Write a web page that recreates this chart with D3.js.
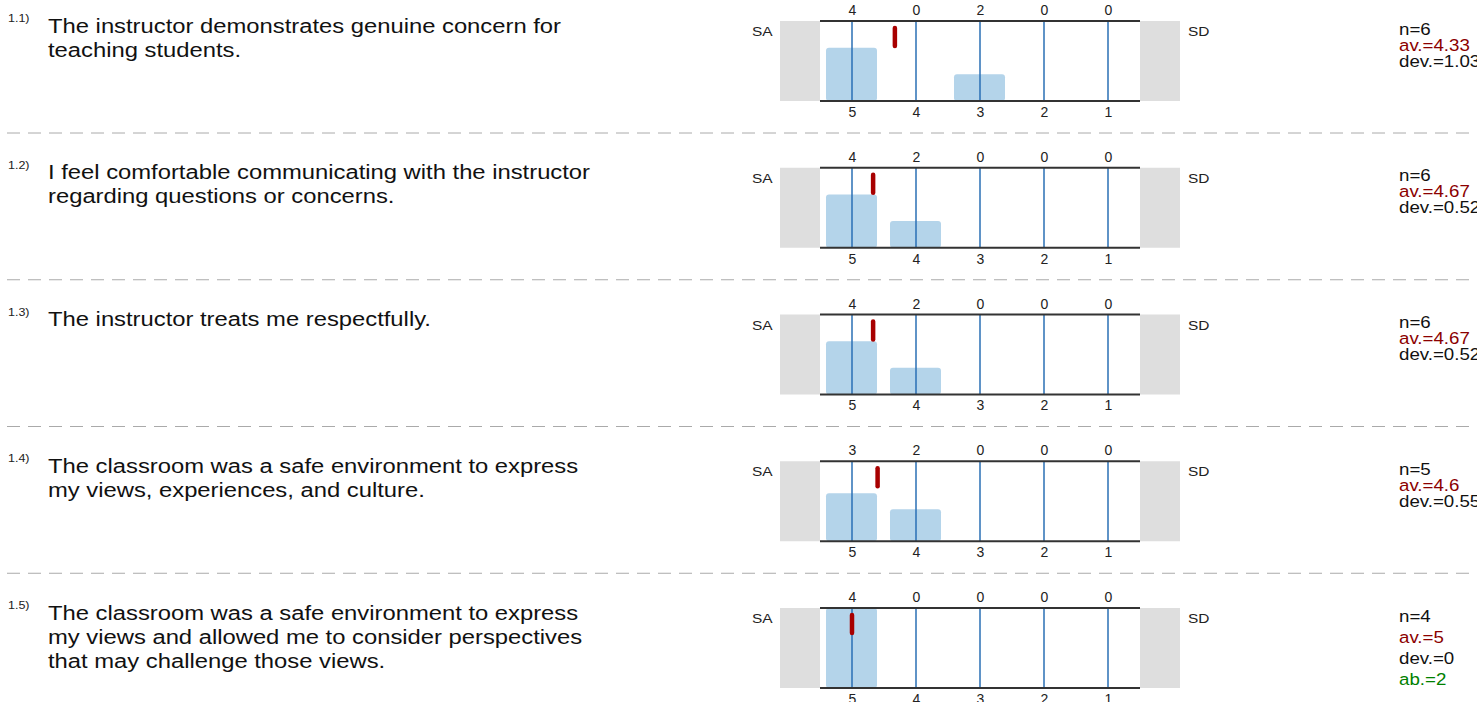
<!DOCTYPE html>
<html>

<head>
    <title>
        Survey Items
    </title>
    <script src="https://cdn.jsdelivr.net/npm/d3@7"></script>
    <style>
        body { margin: 0; background: #fff; }
        text { font-family: "Liberation Sans", Arial, sans-serif; }
    </style>
</head>

<body>
    <svg></svg>
    <script>
        const width = 1477;
        const height = 702;

        // data
        const itemNumbers = ["1.1)", "1.2)", "1.3)", "1.4)", "1.5)"];
        const questions = [
            ["The instructor demonstrates genuine concern for", "teaching students."],
            ["I feel comfortable communicating with the instructor", "regarding questions or concerns."],
            ["The instructor treats me respectfully."],
            ["The classroom was a safe environment to express", "my views, experiences, and culture."],
            ["The classroom was a safe environment to express", "my views and allowed me to consider perspectives", "that may challenge those views."]
        ];
        const scaleValues = [5, 4, 3, 2, 1];
        const counts = [
            [4, 0, 2, 0, 0],
            [4, 2, 0, 0, 0],
            [4, 2, 0, 0, 0],
            [3, 2, 0, 0, 0],
            [4, 0, 0, 0, 0]
        ];
        const nValues = [6, 6, 6, 5, 4];
        const averages = [4.33, 4.67, 4.67, 4.6, 5];
        const deviations = [1.03, 0.52, 0.52, 0.55, 0];
        const abstentions = [null, null, null, null, 2];
        const leftPole = "SA";
        const rightPole = "SD";

        const rowStep = 146.75;
        const firstTop = 21;
        const plotH = 80;
        const stretch = 1.19; // the source text is drawn a bit wide

        let svg = d3.select("svg")
            .attr("width", width)
            .attr("height", height);

        let xScale = d3.scaleLinear()
            .domain([5, 1])
            .range([852, 1108]);

        let step = xScale(4) - xScale(5);
        let left = xScale(5) - step / 2;
        let right = xScale(1) + step / 2;

        let topAxis = d3.axisTop(xScale).tickValues(scaleValues).tickSize(0).tickPadding(6);
        let bottomAxis = d3.axisBottom(xScale).tickValues(scaleValues).tickSize(0).tickPadding(6).tickFormat(d3.format("d"));

        function wide(x, y, s) {
            return "translate(" + x + "," + y + ") scale(" + (s || stretch) + ",1)";
        }

        // separators
        for (let i = 0; i < questions.length - 1; i++) {
            let y = firstTop + i * rowStep + 112;
            svg.append("line")
                .attr("x1", 7).attr("x2", width)
                .attr("y1", y).attr("y2", y)
                .attr("stroke", "#aaa")
                .attr("stroke-width", 1)
                .attr("stroke-dasharray", "13,8");
        }

        questions.forEach((q, i) => {
            let top = firstTop + i * rowStep;
            let bottom = top + plotH;
            let g = svg.append("g");

            g.append("text")
                .attr("transform", wide(8, top + 1))
                .attr("font-size", 10.5)
                .attr("fill", "#222")
                .text(itemNumbers[i]);

            g.selectAll(".q")
                .data(q)
                .enter()
                .append("text")
                .attr("transform", (d, k) => wide(48, top + 11.5 + k * 24))
                .attr("font-size", 20)
                .attr("fill", "#111")
                .text((d) => d);

            // gray pole boxes
            g.append("rect").attr("x", left - 40).attr("y", top).attr("width", 40).attr("height", plotH).attr("fill", "#dedede");
            g.append("rect").attr("x", right).attr("y", top).attr("width", 40).attr("height", plotH).attr("fill", "#dedede");

            g.append("text").attr("transform", wide(752, top + 15)).attr("font-size", 13).attr("fill", "#222").text(leftPole);
            g.append("text").attr("transform", wide(1188, top + 15)).attr("font-size", 13).attr("fill", "#222").text(rightPole);

            let yScale = d3.scaleLinear()
                .domain([0, nValues[i]])
                .range([bottom, top]);

            let bars = scaleValues.map((v, k) => ({ v: v, c: counts[i][k] })).filter((d) => d.c > 0);

            g.selectAll(".bar")
                .data(bars)
                .enter()
                .append("rect")
                .attr("x", (d) => xScale(d.v) - 26)
                .attr("y", (d) => yScale(d.c))
                .attr("width", 51)
                .attr("height", (d) => bottom - yScale(d.c))
                .attr("rx", 3)
                .attr("fill", "#b4d4ea");

            g.selectAll(".grid")
                .data(scaleValues)
                .enter()
                .append("line")
                .attr("x1", (d) => xScale(d)).attr("x2", (d) => xScale(d))
                .attr("y1", top).attr("y2", bottom)
                .attr("stroke", "#2a6fb5")
                .attr("stroke-width", 1.5);

            // top and bottom frame lines
            [top, bottom].forEach((y) => {
                g.append("line")
                    .attr("x1", left).attr("x2", right)
                    .attr("y1", y).attr("y2", y)
                    .attr("stroke", "#333")
                    .attr("stroke-width", 2);
            });

            let countLabels = counts[i];
            let ta = g.append("g")
                .attr("transform", "translate(0," + top + ")")
                .call(topAxis.tickFormat((d, k) => countLabels[k]));
            ta.select(".domain").remove();
            ta.selectAll("text").attr("font-size", 14).attr("fill", "#222").attr("font-family", null);

            let ba = g.append("g")
                .attr("transform", "translate(0," + bottom + ")")
                .call(bottomAxis);
            ba.select(".domain").remove();
            ba.selectAll("text").attr("font-size", 14).attr("fill", "#222").attr("font-family", null);

            // mean marker
            g.append("line")
                .attr("x1", xScale(averages[i])).attr("x2", xScale(averages[i]))
                .attr("y1", top + 7).attr("y2", top + 25)
                .attr("stroke", "#a80000")
                .attr("stroke-width", 4.5)
                .attr("stroke-linecap", "round");

            // stats
            let stats = [
                { t: "n=" + nValues[i], c: "#111" },
                { t: "av.=" + averages[i], c: "#8b0000" },
                { t: "dev.=" + deviations[i], c: "#111" }
            ];
            if (abstentions[i] !== null) {
                stats.push({ t: "ab.=" + abstentions[i], c: "#008000" });
            }
            let lh = stats.length > 3 ? 21 : 16;
            g.selectAll(".stat")
                .data(stats)
                .enter()
                .append("text")
                .attr("transform", (d, k) => wide(1399, top + 13.5 + k * lh, 1.1))
                .attr("font-size", 17)
                .attr("fill", (d) => d.c)
                .text((d) => d.t);
        });
    </script>
</body>

</html>
